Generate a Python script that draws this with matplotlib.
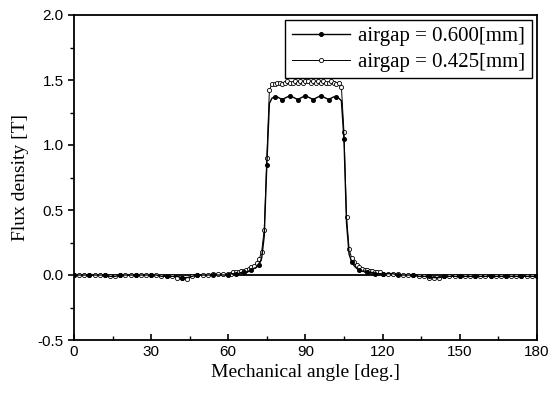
import numpy as np
import matplotlib
matplotlib.use("Agg")
import matplotlib.pyplot as plt
from matplotlib.ticker import MultipleLocator

# angles (deg)
angle_left = list(range(0, 60, 2))
angle_mid = list(range(60, 121, 1))
angle_right = list(range(122, 181, 2))
angle = angle_left + angle_mid + angle_right

# airgap = 0.600 mm
b600_left = [0.00, 0.00, 0.00, 0.00, 0.00, 0.00, 0.00, -0.01, -0.01, 0.00,
             0.00, 0.00, 0.00, 0.00, 0.00, 0.00, 0.00, -0.01, -0.01, -0.01,
             -0.01, -0.02, -0.02, -0.01, 0.00, 0.00, 0.00, 0.00, 0.00, 0.00]
b600_mid = [0.00, 0.01, 0.01, 0.01, 0.01, 0.02, 0.02, 0.02, 0.03, 0.04,
            0.05, 0.06, 0.08, 0.13, 0.30, 0.85, 1.32, 1.36, 1.37, 1.37,
            1.36, 1.35, 1.36, 1.37, 1.38, 1.37, 1.36, 1.35, 1.36, 1.37,
            1.38, 1.37, 1.36, 1.35, 1.36, 1.37, 1.38, 1.37, 1.36, 1.35,
            1.36, 1.37, 1.37, 1.36, 1.34, 1.05, 0.40, 0.16, 0.10, 0.07,
            0.05, 0.04, 0.03, 0.03, 0.02, 0.02, 0.02, 0.01, 0.01, 0.01, 0.01]
b600_right = [0.01, 0.01, 0.00, 0.00, 0.00, 0.00, -0.01, -0.01, -0.01, -0.02,
              -0.02, -0.01, -0.01, -0.01, -0.01, -0.01, -0.01, -0.01, -0.01, -0.01,
              -0.01, -0.01, -0.01, -0.01, -0.01, -0.01, -0.01, -0.01, -0.01, -0.01]

# airgap = 0.425 mm
b425_left = [0.00, 0.00, 0.00, 0.00, 0.00, 0.00, 0.00, -0.01, -0.01, 0.00,
             0.00, 0.00, 0.00, 0.00, 0.00, 0.00, 0.00, -0.01, -0.01, -0.01,
             -0.02, -0.02, -0.03, -0.01, 0.00, 0.00, 0.00, 0.01, 0.01, 0.01]
b425_mid = [0.01, 0.01, 0.02, 0.02, 0.02, 0.03, 0.03, 0.04, 0.05, 0.06,
            0.07, 0.09, 0.12, 0.18, 0.35, 0.90, 1.42, 1.47, 1.47, 1.48,
            1.48, 1.47, 1.48, 1.49, 1.48, 1.48, 1.49, 1.48, 1.49, 1.48,
            1.49, 1.49, 1.48, 1.49, 1.48, 1.49, 1.48, 1.49, 1.48, 1.48,
            1.49, 1.48, 1.47, 1.48, 1.45, 1.10, 0.45, 0.20, 0.13, 0.10,
            0.08, 0.06, 0.05, 0.04, 0.04, 0.03, 0.03, 0.02, 0.02, 0.02, 0.01]
b425_right = [0.01, 0.01, 0.01, 0.00, 0.00, 0.00, -0.01, -0.01, -0.02, -0.02,
              -0.02, -0.01, -0.01, -0.01, -0.01, -0.01, -0.01, -0.01, -0.01, -0.01,
              -0.01, -0.01, -0.01, -0.01, -0.01, -0.01, -0.01, -0.01, -0.01, -0.01]

b600 = b600_left + b600_mid + b600_right
b425 = b425_left + b425_mid + b425_right

labels = ["airgap = 0.600[mm]", "airgap = 0.425[mm]"]
xticks = [0, 30, 60, 90, 120, 150, 180]
yticks = [-0.5, 0.0, 0.5, 1.0, 1.5, 2.0]

fig = plt.figure(figsize=(5.5, 4.0), dpi=100)
ax = fig.add_axes([0.1345, 0.15, 0.8415, 0.8125])

ax.axhline(0.0, color="black", lw=1.3, zorder=1)
ax.plot(angle, b600, color="black", lw=1.0, marker="o", ms=2.6,
        mfc="black", mec="black", markevery=3, label=labels[0], zorder=3)
ax.plot(angle, b425, color="black", lw=0.7, marker="o", ms=3.0,
        mfc="white", mec="black", mew=0.6, label=labels[1], zorder=2)

ax.set_xlim(0, 180)
ax.set_ylim(-0.5, 2.0)
ax.set_xticks(xticks)
ax.set_yticks(yticks)
ax.set_yticklabels(["-0.5", "0.0", "0.5", "1.0", "1.5", "2.0"])
ax.xaxis.set_minor_locator(MultipleLocator(15))
ax.yaxis.set_minor_locator(MultipleLocator(0.25))
ax.tick_params(axis="x", which="both", direction="in", top=False, labelsize=11)
ax.tick_params(axis="y", which="both", direction="out", right=False, labelsize=11)
ax.tick_params(which="major", length=4, width=1.2)
ax.tick_params(which="minor", length=3, width=1.0)
for lab in ax.get_xticklabels() + ax.get_yticklabels():
    lab.set_family("Liberation Sans")
for s in ax.spines.values():
    s.set_linewidth(1.3)

ax.set_xlabel("Mechanical angle [deg.]", family="Liberation Serif", fontsize=14, labelpad=4)
ax.set_ylabel("Flux density [T]", family="Liberation Serif", fontsize=14, labelpad=6)

leg = ax.legend(loc="upper right", prop={"family": "Liberation Serif", "size": 15},
                frameon=True, fancybox=False, edgecolor="black", framealpha=1,
                handlelength=2.8, borderaxespad=0.25, labelspacing=0.3,
                handletextpad=0.4, borderpad=0.3)
leg.get_frame().set_linewidth(1.0)

fig.savefig("out.png", dpi=100)
